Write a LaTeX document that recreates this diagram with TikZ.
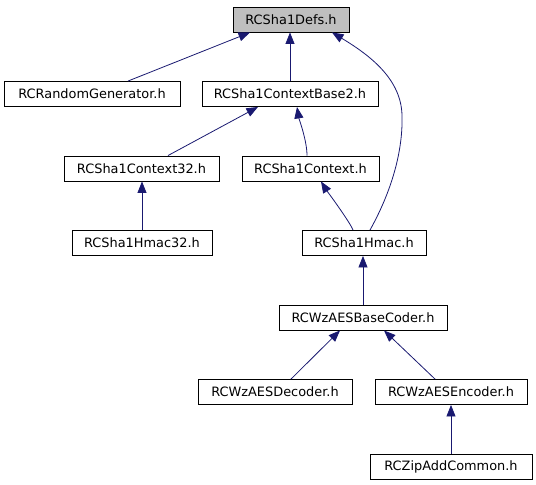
\documentclass[tikz,border=0pt]{standalone}
\usepackage{fontspec}
\setmainfont{DejaVu Sans}
\usetikzlibrary{arrows.meta,calc}
\definecolor{edgeblue}{HTML}{191970}
\definecolor{rootgray}{HTML}{BFBFBF}
\begin{document}
\begin{tikzpicture}[x=1pt,y=-1pt,
  hbox/.style={draw=black,line width=0.9pt,minimum height=25pt,inner sep=0pt,font=\fontsize{12.9}{15}\selectfont},
  edge/.style={draw=edgeblue,line width=0.8pt,-{Triangle[length=11.5pt,width=9pt]}}]
\useasboundingbox (0,0) rectangle (536,485);
\node[hbox,fill=rootgray,minimum width=116pt] (defs) at (291,19.5) {RCSha1Defs.h};
\node[hbox,minimum width=176pt] (rand) at (92,94) {RCRandomGenerator.h};
\node[hbox,minimum width=176pt] (base2) at (290,94) {RCSha1ContextBase2.h};
\node[hbox,minimum width=155pt] (ctx32) at (141.5,168.5) {RCSha1Context32.h};
\node[hbox,minimum width=137pt] (ctx) at (310.5,168.5) {RCSha1Context.h};
\node[hbox,minimum width=140pt] (hmac32) at (142,243) {RCSha1Hmac32.h};
\node[hbox,minimum width=124pt] (hmac) at (364,243) {RCSha1Hmac.h};
\node[hbox,minimum width=168pt] (base) at (363,317.5) {RCWzAESBaseCoder.h};
\node[hbox,minimum width=154pt] (dec) at (275,392) {RCWzAESDecoder.h};
\node[hbox,minimum width=152pt] (enc) at (451,392) {RCWzAESEncoder.h};
\node[hbox,minimum width=162pt] (zip) at (451,466.5) {RCZipAddCommon.h};
\coordinate (bendA) at (402,115);
\draw[edge] ([xshift=36pt]rand.north) -- ([xshift=-41pt]defs.south);
\draw[edge] (base2.north) -- (base2.north |- defs.south);
\draw[edge] ([xshift=6pt]hmac.north) .. controls +(25,-45) and +(1,30) .. (bendA) .. controls +(-1,-35) and +(40,24) .. ([xshift=41pt]defs.south);
\draw[edge] ([xshift=26.5pt]ctx32.north) -- ([xshift=-32pt]base2.south);
\draw[edge] ([xshift=-3.5pt]ctx.north) .. controls +(0,-15) and +(2,12) .. ([xshift=7pt]base2.south);
\draw[edge] (hmac32.north) -- (hmac32.north |- ctx32.south);
\draw[edge] ([xshift=-11pt]hmac.north) .. controls +(-3,-8) and +(5,8) .. ([xshift=10.5pt]ctx.south);
\draw[edge] (base.north) -- (base.north |- hmac.south);
\draw[edge] ([xshift=16pt]dec.north) -- ([xshift=-23pt]base.south);
\draw[edge] ([xshift=-16pt]enc.north) -- ([xshift=21pt]base.south);
\draw[edge] (zip.north) -- (enc.south);
\end{tikzpicture}
\end{document}
